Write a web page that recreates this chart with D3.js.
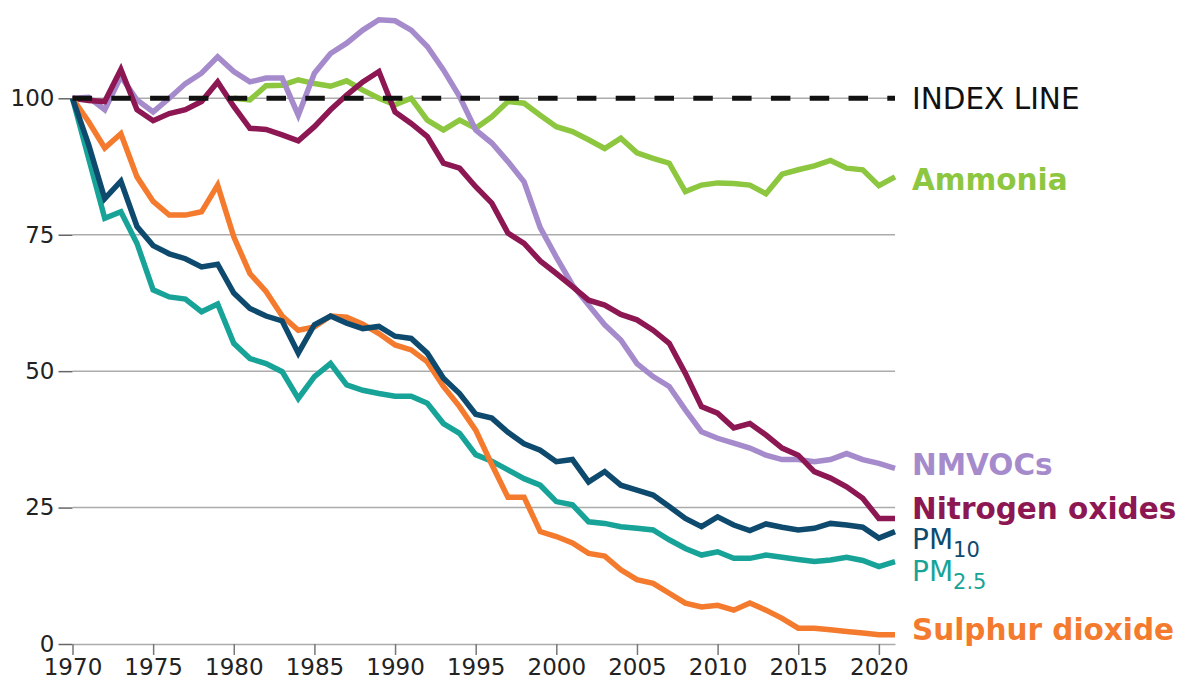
<!DOCTYPE html>
<html>
<head>
<meta charset="utf-8">
<script src="https://cdn.jsdelivr.net/npm/d3@7"></script>
<style>
  html, body { margin: 0; padding: 0; background: #fff; }
  svg { display: block; font-family: "DejaVu Sans", sans-serif; }
</style>
</head>
<body>
<svg id="chart" width="1181" height="681"></svg>
<script>
const years = d3.range(1970, 2022);
const xTicks = [1970, 1975, 1980, 1985, 1990, 1995, 2000, 2005, 2010, 2015, 2020];
const yTicks = [0, 25, 50, 75, 100];

const ammonia = [null, null, null, null, null, null, null, null, null, null,
  100, 99.7, 102.3, 102.4, 103.4, 102.7, 102.2, 103.2, 101.5, 100,
  98.8, 100, 96, 94.2, 96, 94.5, 96.6, 99.4, 99.1, 96.9,
  94.8, 93.9, 92.4, 90.8, 92.7, 90, 89, 88.1, 82.9, 84.1,
  84.5, 84.4, 84.1, 82.5, 86.1, 86.9, 87.6, 88.6, 87.2, 86.9,
  84, 85.6];
const nmvocs = [100, 100.2, 97.9, 104, 99.7, 97.5, 100, 102.7, 104.6, 107.6,
  104.9, 103.0, 103.7, 103.7, 96.9, 104.6, 108.2, 110.1, 112.5, 114.4,
  114.2, 112.5, 109.5, 105.2, 100.3, 94.2, 91.8, 88.4, 84.7, 76.3,
  70.9, 65.8, 62.1, 58.5, 55.7, 51.4, 49.0, 47.2, 42.9, 38.9,
  37.7, 36.8, 35.9, 34.6, 33.8, 33.8, 33.4, 33.8, 34.9, 33.8,
  33.1, 32.2];
const nox = [100, 99.6, 99.4, 105.3, 97.9, 95.9, 97.2, 97.9, 99.4, 103,
  98.5, 94.5, 94.3, 93.3, 92.2, 94.8, 97.9, 100.6, 103, 104.9,
  97.5, 95.4, 93, 88.1, 87.2, 83.8, 80.8, 75.3, 73.4, 70.2,
  67.9, 65.5, 63, 62.1, 60.4, 59.4, 57.5, 55.1, 49.6, 43.5,
  42.3, 39.6, 40.4, 38.3, 35.9, 34.6, 31.6, 30.4, 28.8, 26.7,
  23.0, 23.0];
const pm10 = [100, 91.5, 81.6, 84.8, 76.5, 73, 71.5, 70.6, 69.1, 69.6,
  64.3, 61.5, 60.1, 59.2, 53.3, 58.5, 60.1, 58.8, 57.8, 58.2,
  56.4, 56, 53.3, 48.7, 45.9, 42.1, 41.4, 38.8, 36.7, 35.5,
  33.4, 33.8, 29.7, 31.6, 29.1, 28.2, 27.3, 25.2, 23, 21.5,
  23.3, 21.8, 20.8, 22, 21.4, 20.9, 21.2, 22.1, 21.8, 21.4,
  19.4, 20.6];
const pm25 = [100, 89, 78, 79.2, 73.4, 64.9, 63.6, 63.2, 60.9, 62.3,
  55.1, 52.3, 51.4, 49.9, 45, 49, 51.4, 47.5, 46.5, 45.9,
  45.4, 45.4, 44.1, 40.4, 38.6, 34.7, 33.5, 31.9, 30.3, 29.1,
  26.1, 25.5, 22.4, 22.1, 21.5, 21.2, 20.9, 19.1, 17.5, 16.3,
  16.9, 15.7, 15.7, 16.3, 15.9, 15.5, 15.1, 15.4, 15.9, 15.3,
  14.2, 15.1];
const so2 = [100, 95.7, 90.9, 93.5, 85.6, 81.1, 78.6, 78.6, 79.2, 84.1,
  74.6, 67.9, 64.6, 60.1, 57.5, 58.1, 60.1, 59.9, 58.6, 56.9,
  54.8, 53.9, 51.7, 47.2, 43.5, 39.2, 32.9, 26.9, 26.9, 20.6,
  19.7, 18.5, 16.6, 16.1, 13.6, 11.8, 11.1, 9.3, 7.5, 6.8,
  7.1, 6.2, 7.5, 6.2, 4.7, 2.9, 2.9, 2.6, 2.3, 2.0,
  1.7, 1.7];

const seriesNames = ["Ammonia", "NMVOCs", "Nitrogen oxides", "PM2.5", "Sulphur dioxide", "PM10"];
const seriesValues = [ammonia, nmvocs, nox, pm25, so2, pm10];
const seriesColors = ["#8dc63f", "#a58bcb", "#8c1752", "#17a398", "#f47a2e", "#0e4a6e"];
const indexValue = 100;

const svg = d3.select("#chart");
const x = d3.scaleLinear().domain([1970, 2021]).range([72.5, 895]);
const y = d3.scaleLinear().domain([0, 100]).range([644, 98.3]);

// gridlines
svg.append("g").selectAll("line").data(yTicks.filter(d => d > 0)).join("line")
  .attr("x1", x(1970)).attr("x2", x(2021))
  .attr("y1", d => y(d)).attr("y2", d => y(d))
  .attr("stroke", "#ababab").attr("stroke-width", 1.5);

// x axis
const xAxis = svg.append("g").attr("transform", `translate(0,${y(0)})`)
  .call(d3.axisBottom(x).tickValues(xTicks).tickFormat(d3.format("d")).tickSize(11).tickSizeOuter(0));
xAxis.select(".domain").attr("stroke", "#ababab").attr("stroke-width", 1.5);
xAxis.selectAll(".tick line").attr("stroke", "#777").attr("stroke-width", 1.5);
xAxis.selectAll(".tick text").attr("font-size", 23).attr("fill", "#222")
  .attr("font-family", "DejaVu Sans").attr("y", 15);

// y axis
const yAxis = svg.append("g").attr("transform", `translate(${x(1970)},0)`)
  .call(d3.axisLeft(y).tickValues(yTicks).tickSize(14));
yAxis.select(".domain").remove();
yAxis.selectAll(".tick line").attr("stroke", "#666").attr("stroke-width", 1.5);
yAxis.selectAll(".tick text").attr("font-size", 23).attr("fill", "#222")
  .attr("font-family", "DejaVu Sans").attr("x", -18);

// lines
const line = d3.line()
  .defined(d => d.v != null)
  .x(d => x(d.year)).y(d => y(d.v))
  .curve(d3.curveLinear);

seriesNames.forEach((name, i) => {
  const data = years.map((yr, j) => ({year: yr, v: seriesValues[i][j]}));
  svg.append("path")
    .datum(data)
    .attr("fill", "none")
    .attr("stroke", seriesColors[i])
    .attr("stroke-width", 5.5)
    .attr("stroke-linejoin", "miter")
    .attr("stroke-linecap", "butt")
    .attr("d", line);
});

// index line
svg.append("line")
  .attr("x1", x(1970)).attr("x2", x(2021))
  .attr("y1", y(indexValue)).attr("y2", y(indexValue))
  .attr("stroke", "#111").attr("stroke-width", 5)
  .attr("stroke-dasharray", "19.5,19.3");

// labels
const labelX = 912;
const labelSize = 29.5;
svg.append("text").attr("x", labelX).attr("y", 109)
  .attr("font-size", labelSize).attr("fill", "#111").text("INDEX LINE");

const labels = [
  {t: "Ammonia", c: seriesColors[0], y: 190, bold: true},
  {t: "NMVOCs", c: seriesColors[1], y: 475, bold: true},
  {t: "Nitrogen oxides", c: seriesColors[2], y: 519, bold: true},
  {t: "Sulphur dioxide", c: seriesColors[4], y: 640, bold: true}
];
labels.forEach(l => {
  svg.append("text").attr("x", labelX).attr("y", l.y)
    .attr("font-size", labelSize).attr("font-weight", l.bold ? "bold" : "normal")
    .attr("fill", l.c).text(l.t);
});

const subLabels = [
  {main: "PM", sub: "10", c: seriesColors[5], y: 549},
  {main: "PM", sub: "2.5", c: seriesColors[3], y: 581}
];
subLabels.forEach(l => {
  const t = svg.append("text").attr("x", labelX).attr("y", l.y)
    .attr("font-size", 28).attr("fill", l.c);
  t.append("tspan").text(l.main);
  t.append("tspan").attr("font-size", 21).attr("dy", 8).text(l.sub);
});
</script>
</body>
</html>
